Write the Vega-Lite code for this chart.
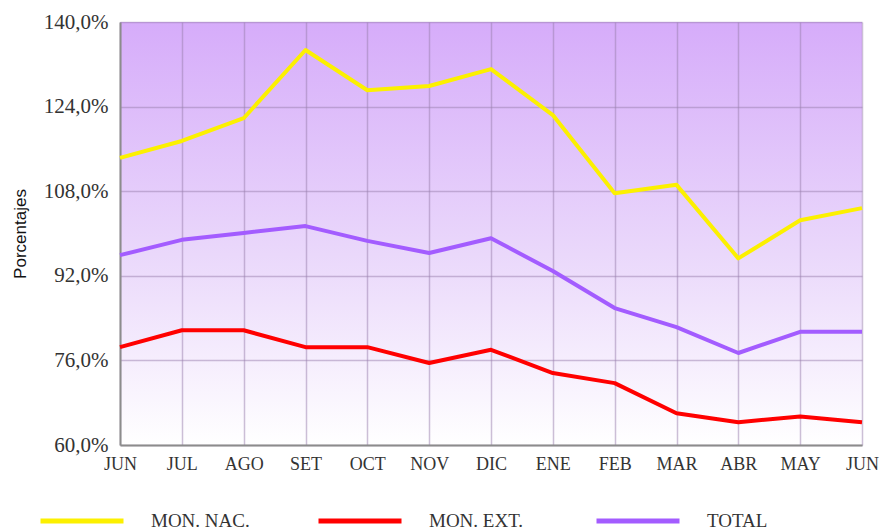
{
  "$schema": "https://vega.github.io/schema/vega-lite/v6.json",
  "width": 742,
  "height": 423,
  "autosize": "none",
  "padding": {"left": 120, "top": 22, "right": 22, "bottom": 85},
  "background": "#ffffff",
  "view": {
    "stroke": null,
    "fill": {
      "gradient": "linear",
      "x1": 0, "y1": 0, "x2": 0, "y2": 1,
      "stops": [
        {"offset": 0, "color": "#d6acfa"},
        {"offset": 0.55, "color": "#ead8fb"},
        {"offset": 1, "color": "#ffffff"}
      ]
    }
  },
  "data": {
    "values": [
      {"mes": "JUN", "serie": "MON. NAC.", "valor": 114.3},
      {"mes": "JUL", "serie": "MON. NAC.", "valor": 117.5},
      {"mes": "AGO", "serie": "MON. NAC.", "valor": 121.8},
      {"mes": "SET", "serie": "MON. NAC.", "valor": 134.7},
      {"mes": "OCT", "serie": "MON. NAC.", "valor": 127.1},
      {"mes": "NOV", "serie": "MON. NAC.", "valor": 127.9},
      {"mes": "DIC", "serie": "MON. NAC.", "valor": 131.1},
      {"mes": "ENE", "serie": "MON. NAC.", "valor": 122.4},
      {"mes": "FEB", "serie": "MON. NAC.", "valor": 107.6},
      {"mes": "MAR", "serie": "MON. NAC.", "valor": 109.2},
      {"mes": "ABR", "serie": "MON. NAC.", "valor": 95.3},
      {"mes": "MAY", "serie": "MON. NAC.", "valor": 102.5},
      {"mes": "JUN ", "serie": "MON. NAC.", "valor": 104.8},
      {"mes": "JUN", "serie": "MON. EXT.", "valor": 78.5},
      {"mes": "JUL", "serie": "MON. EXT.", "valor": 81.7},
      {"mes": "AGO", "serie": "MON. EXT.", "valor": 81.7},
      {"mes": "SET", "serie": "MON. EXT.", "valor": 78.5},
      {"mes": "OCT", "serie": "MON. EXT.", "valor": 78.5},
      {"mes": "NOV", "serie": "MON. EXT.", "valor": 75.5},
      {"mes": "DIC", "serie": "MON. EXT.", "valor": 78.0},
      {"mes": "ENE", "serie": "MON. EXT.", "valor": 73.6},
      {"mes": "FEB", "serie": "MON. EXT.", "valor": 71.7},
      {"mes": "MAR", "serie": "MON. EXT.", "valor": 66.0},
      {"mes": "ABR", "serie": "MON. EXT.", "valor": 64.3},
      {"mes": "MAY", "serie": "MON. EXT.", "valor": 65.4},
      {"mes": "JUN ", "serie": "MON. EXT.", "valor": 64.3},
      {"mes": "JUN", "serie": "TOTAL", "valor": 95.9},
      {"mes": "JUL", "serie": "TOTAL", "valor": 98.8},
      {"mes": "AGO", "serie": "TOTAL", "valor": 100.1},
      {"mes": "SET", "serie": "TOTAL", "valor": 101.4},
      {"mes": "OCT", "serie": "TOTAL", "valor": 98.6},
      {"mes": "NOV", "serie": "TOTAL", "valor": 96.3},
      {"mes": "DIC", "serie": "TOTAL", "valor": 99.1},
      {"mes": "ENE", "serie": "TOTAL", "valor": 92.9},
      {"mes": "FEB", "serie": "TOTAL", "valor": 85.9},
      {"mes": "MAR", "serie": "TOTAL", "valor": 82.3},
      {"mes": "ABR", "serie": "TOTAL", "valor": 77.4},
      {"mes": "MAY", "serie": "TOTAL", "valor": 81.4},
      {"mes": "JUN ", "serie": "TOTAL", "valor": 81.4}
    ]
  },
  "mark": {"type": "line", "strokeWidth": 4, "strokeJoin": "round"},
  "encoding": {
    "x": {
      "field": "mes",
      "type": "ordinal",
      "sort": ["JUN", "JUL", "AGO", "SET", "OCT", "NOV", "DIC", "ENE", "FEB", "MAR", "ABR", "MAY", "JUN "],
      "scale": {"type": "point", "padding": 0},
      "axis": {
        "title": null,
        "labelAngle": 0,
        "labelFont": "Liberation Serif",
        "labelFontSize": 18,
        "labelColor": "#333333",
        "labelPadding": 10,
        "ticks": false,
        "domain": true,
        "domainColor": "#8c8c8c",
        "domainWidth": 2,
        "grid": true,
        "gridColor": "#9a80ae",
        "gridOpacity": 0.5,
        "gridWidth": 1.5,
        "labelOverlap": false
      }
    },
    "y": {
      "field": "valor",
      "type": "quantitative",
      "scale": {"domain": [60, 140], "nice": false, "zero": false},
      "axis": {
        "title": "Porcentajes",
        "titleFont": "Liberation Sans",
        "titleFontSize": 17,
        "titleFontWeight": "normal",
        "titleColor": "#111111",
        "titlePadding": 14,
        "values": [60, 76, 92, 108, 124, 140],
        "labelExpr": "replace(format(datum.value, '.1f'), '.', ',') + '%'",
        "labelFont": "Liberation Serif",
        "labelFontSize": 21,
        "labelColor": "#333333",
        "labelPadding": 12,
        "ticks": false,
        "domain": true,
        "domainColor": "#8c8c8c",
        "domainWidth": 2,
        "grid": true,
        "gridColor": "#9a80ae",
        "gridOpacity": 0.5,
        "gridWidth": 1.5
      }
    },
    "color": {
      "field": "serie",
      "type": "nominal",
      "scale": {
        "domain": ["MON. NAC.", "MON. EXT.", "TOTAL"],
        "range": ["#fcf000", "#ff0000", "#a35cff"]
      },
      "legend": {
        "title": null,
        "orient": "none",
        "legendX": -82,
        "legendY": 455,
        "direction": "horizontal",
        "columns": 3,
        "gridAlign": "all",
        "columnPadding": 58,
        "symbolType": "M-1,0H1",
        "symbolSize": 6889,
        "symbolStrokeWidth": 5,
        "labelFont": "Liberation Serif",
        "labelFontSize": 19,
        "labelColor": "#333333",
        "labelOffset": 25,
        "labelBaseline": "middle",
        "labelLimit": 300
      }
    }
  }
}
